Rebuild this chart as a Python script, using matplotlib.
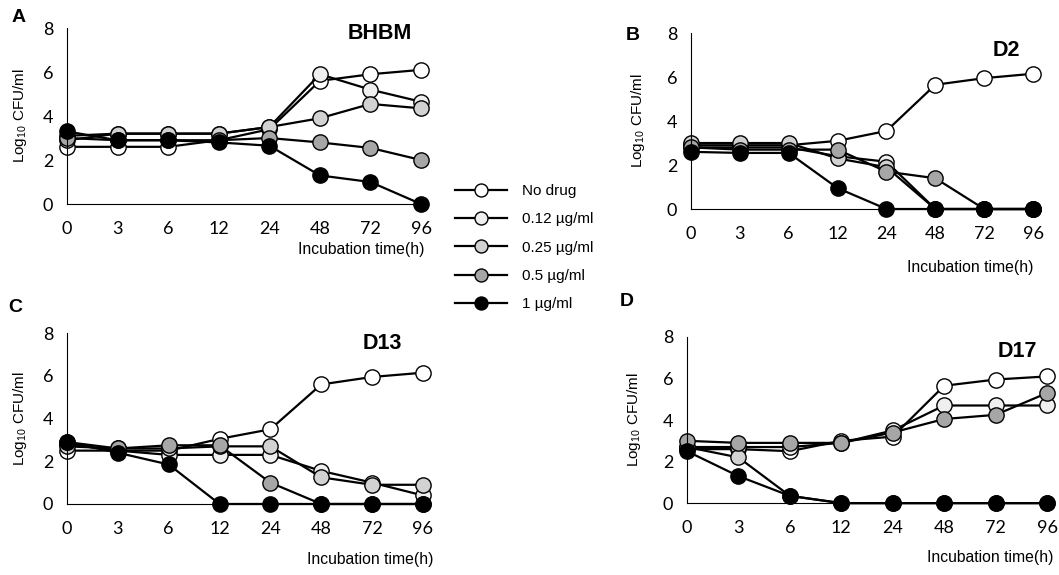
import matplotlib
matplotlib.use("Agg")
import matplotlib.pyplot as plt

plt.rcParams['font.family'] = ['Liberation Sans', 'DejaVu Sans']
plt.rcParams['mathtext.fontset'] = 'custom'
plt.rcParams['mathtext.rm'] = 'Liberation Sans'

# time points (categorical axis)
times = ["0", "3", "6", "12", "24", "48", "72", "96"]
doses = ["No drug", "0.12 \u00b5g/ml", "0.25 \u00b5g/ml", "0.5 \u00b5g/ml", "1 \u00b5g/ml"]
face_colors = ["white", "#efefef", "#d2d2d2", "#a6a6a6", "black"]

# log10 CFU/ml
bhbm_nodrug = [2.6, 2.6, 2.6, 2.9, 3.4, 5.6, 5.9, 6.1]
bhbm_012 = [2.9, 3.2, 3.2, 3.2, 3.5, 5.9, 5.2, 4.65]
bhbm_025 = [3.1, 3.2, 3.2, 3.2, 3.5, 3.9, 4.55, 4.35]
bhbm_05 = [3.0, 2.9, 2.9, 2.9, 3.0, 2.8, 2.55, 2.0]
bhbm_1 = [3.3, 2.9, 2.9, 2.8, 2.65, 1.3, 1.0, 0.0]

d2_nodrug = [2.9, 2.9, 2.9, 3.1, 3.55, 5.65, 5.95, 6.15]
d2_012 = [2.8, 2.8, 2.8, 2.4, 2.15, 0.0, 0.0, 0.0]
d2_025 = [3.0, 3.0, 3.0, 2.3, 1.9, 0.0, 0.0, 0.0]
d2_05 = [2.8, 2.7, 2.7, 2.7, 1.7, 1.4, 0.0, 0.0]
d2_1 = [2.6, 2.55, 2.55, 0.95, 0.0, 0.0, 0.0, 0.0]

d13_nodrug = [2.5, 2.5, 2.5, 3.05, 3.5, 5.6, 5.95, 6.15]
d13_012 = [2.8, 2.5, 2.3, 2.3, 2.3, 1.55, 1.0, 0.4]
d13_025 = [2.7, 2.6, 2.6, 2.7, 2.7, 1.25, 0.9, 0.9]
d13_05 = [2.9, 2.6, 2.75, 2.75, 1.0, 0.0, 0.0, 0.0]
d13_1 = [2.9, 2.4, 1.85, 0.0, 0.0, 0.0, 0.0, 0.0]

d17_nodrug = [2.6, 2.6, 2.5, 3.0, 3.2, 5.65, 5.95, 6.1]
d17_012 = [2.7, 2.7, 2.7, 2.9, 3.5, 4.7, 4.7, 4.7]
d17_025 = [2.7, 2.2, 0.35, 0.0, 0.0, 0.0, 0.0, 0.0]
d17_05 = [3.0, 2.9, 2.9, 2.9, 3.4, 4.05, 4.25, 5.3]
d17_1 = [2.5, 1.3, 0.35, 0.0, 0.0, 0.0, 0.0, 0.0]

panels = [
    ("A", "BHBM", [bhbm_nodrug, bhbm_012, bhbm_025, bhbm_05, bhbm_1]),
    ("B", "D2", [d2_nodrug, d2_012, d2_025, d2_05, d2_1]),
    ("C", "D13", [d13_nodrug, d13_012, d13_025, d13_05, d13_1]),
    ("D", "D17", [d17_nodrug, d17_012, d17_025, d17_05, d17_1]),
]

# layout per panel: axes box, letter spot, title spot, x-label spot, y-label x
boxes = [
    [0.0633, 0.6452, 0.3343, 0.306],
    [0.6525, 0.6365, 0.3230, 0.306],
    [0.0633, 0.1235, 0.3360, 0.297],
    [0.6487, 0.1250, 0.3400, 0.289],
]
letter_pos = [(0.011, 0.970), (0.591, 0.938), (0.008, 0.465), (0.585, 0.475)]
title_pos = [(0.975, 0.97), (0.962, 0.90), (0.94, 0.94), (0.972, 0.91)]
xlab_pos = [(1.01, -0.26), (1.0, -0.335), (1.03, -0.327), (1.017, -0.325)]
ylab_x = [-0.107, -0.129, -0.107, -0.122]

fig = plt.figure(figsize=(10.59, 5.75), dpi=100)
pos = list(range(len(times)))

handles = []
for i, (letter, title, series) in enumerate(panels):
    ax = fig.add_axes(boxes[i])
    for vals, fc, lab in zip(series, face_colors, doses):
        h, = ax.plot(pos, vals, color='black', linewidth=1.6, marker='o',
                     markersize=11, markerfacecolor=fc, markeredgecolor='black',
                     markeredgewidth=1.0, clip_on=False, label=lab)
        if i == 0:
            handles.append(h)
    ax.set_xlim(0, 7)
    ax.set_ylim(0, 8)
    ax.set_xticks(pos)
    ax.set_xticklabels(times, fontfamily='Lato', fontsize=13)
    ax.set_yticks([0, 2, 4, 6, 8])
    ax.set_yticklabels(["0", "2", "4", "6", "8"], fontfamily='Lato', fontsize=13)
    ax.tick_params(length=0, pad=12)
    ax.tick_params(axis='y', pad=10)
    ax.spines['top'].set_visible(False)
    ax.spines['right'].set_visible(False)
    ax.set_ylabel("Log$_{10}$ CFU/ml", fontsize=11)
    ax.yaxis.set_label_coords(ylab_x[i], 0.5)
    ax.text(title_pos[i][0], title_pos[i][1], title, transform=ax.transAxes,
            ha='right', va='center', fontsize=15.5, fontweight='bold')
    ax.text(xlab_pos[i][0], xlab_pos[i][1], "Incubation time(h)",
            transform=ax.transAxes, ha='right', va='center', fontsize=11.3)
    fig.text(letter_pos[i][0], letter_pos[i][1], letter, fontsize=14,
             fontweight='bold', va='center')

fig.legend(handles=handles, loc='upper left', bbox_to_anchor=(0.417, 0.704),
           frameon=False, fontsize=11, handlelength=3.4, markerscale=0.85,
           labelspacing=0.94, handletextpad=0.95)

fig.savefig("out.png", dpi=100)
